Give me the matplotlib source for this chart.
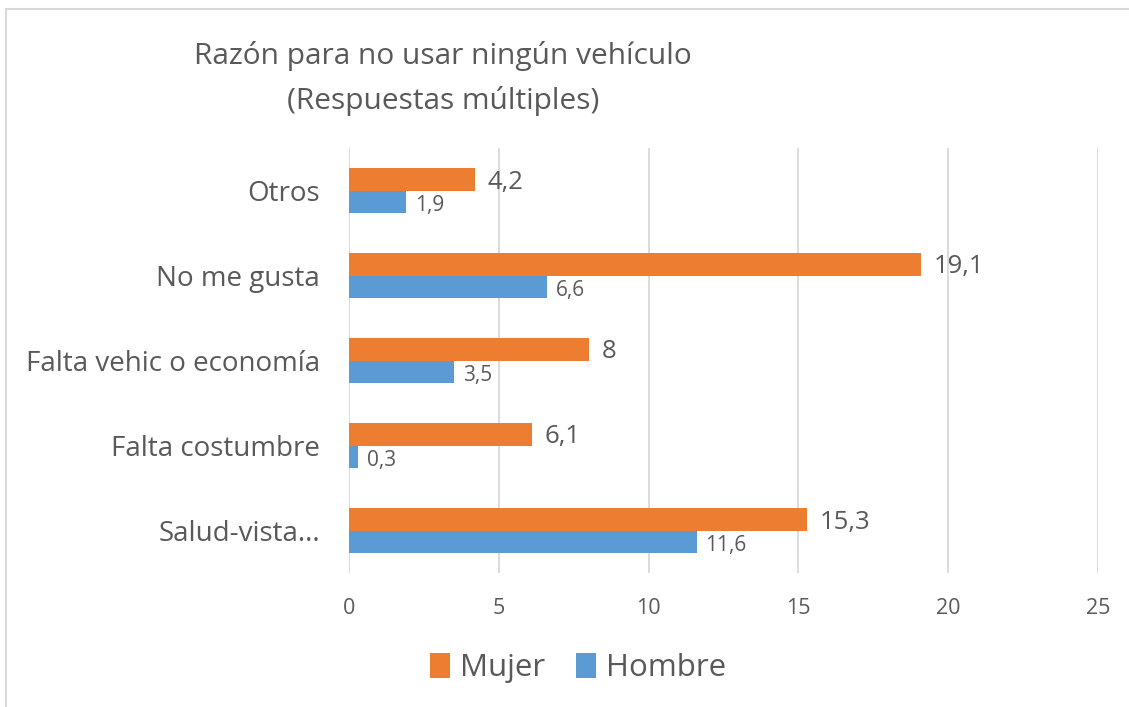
import matplotlib
matplotlib.use("Agg")
import matplotlib.pyplot as plt
from matplotlib.patches import Rectangle
import numpy as np

plt.rcParams["font.family"] = ["Open Sans", "DejaVu Sans"]

categories = ["Salud-vista...", "Falta costumbre", "Falta vehic o economía", "No me gusta", "Otros"]
mujer = [15.3, 6.1, 8, 19.1, 4.2]
hombre = [11.6, 0.3, 3.5, 6.6, 1.9]
mujer_labels = ["15,3", "6,1", "8", "19,1", "4,2"]
hombre_labels = ["11,6", "0,3", "3,5", "6,6", "1,9"]

ORANGE = "#ED7D31"
BLUE = "#5B9BD5"
TEXT = "#595959"
GRID = "#D9D9D9"

fig = plt.figure(figsize=(11.29, 7.07), dpi=100)
ax = fig.add_axes([349 / 1129, 1 - 573 / 707, (1098 - 349) / 1129, (573 - 148) / 707])

y = np.arange(len(categories))
h = 0.26
ax.barh(y + h / 2, mujer, height=h, color=ORANGE, label="Mujer", zorder=3)
ax.barh(y - h / 2, hombre, height=h, color=BLUE, label="Hombre", zorder=3)

for yi, v, lab in zip(y, mujer, mujer_labels):
    ax.text(v + 0.42, yi + h / 2 - 0.03, lab, va="center", ha="left", fontsize=18.5, color=TEXT)
for yi, v, lab in zip(y, hombre, hombre_labels):
    ax.text(v + 0.3, yi - h / 2 - 0.05, lab, va="center", ha="left", fontsize=15, color=TEXT)

ax.set_xlim(0, 25)
ax.set_ylim(-0.5, 4.5)
ax.set_xticks(np.arange(0, 26, 5))
ax.set_yticks(y)
ax.set_yticklabels(categories)
ax.tick_params(axis="y", length=0, pad=21, labelsize=20, labelcolor=TEXT)
ax.tick_params(axis="x", length=0, pad=18, labelsize=15.5, labelcolor=TEXT)
ax.grid(axis="x", color=GRID, linewidth=1.3, zorder=0)
for s in ax.spines.values():
    s.set_visible(False)

fig.text(443 / 1129, 1 - 56 / 707, "Razón para no usar ningún vehículo", ha="center", va="center",
         fontsize=21.5, color=TEXT)
fig.text(443 / 1129, 1 - 101 / 707, "(Respuestas múltiples)", ha="center", va="center",
         fontsize=21.5, color=TEXT)

fig.legend(loc="center", bbox_to_anchor=(578 / 1129, 1 - 668 / 707), ncol=2, frameon=False,
           fontsize=22.5, labelcolor=TEXT, handlelength=0.65, handleheight=0.85,
           handletextpad=0.3, columnspacing=1.0)

fig.patches.append(Rectangle((6 / 1129, -0.1), 1.2, 1 - 9 / 707 + 0.1, transform=fig.transFigure,
                             fill=False, edgecolor="#D9D9D9", linewidth=1.5))

fig.savefig("out.png", dpi=100)
